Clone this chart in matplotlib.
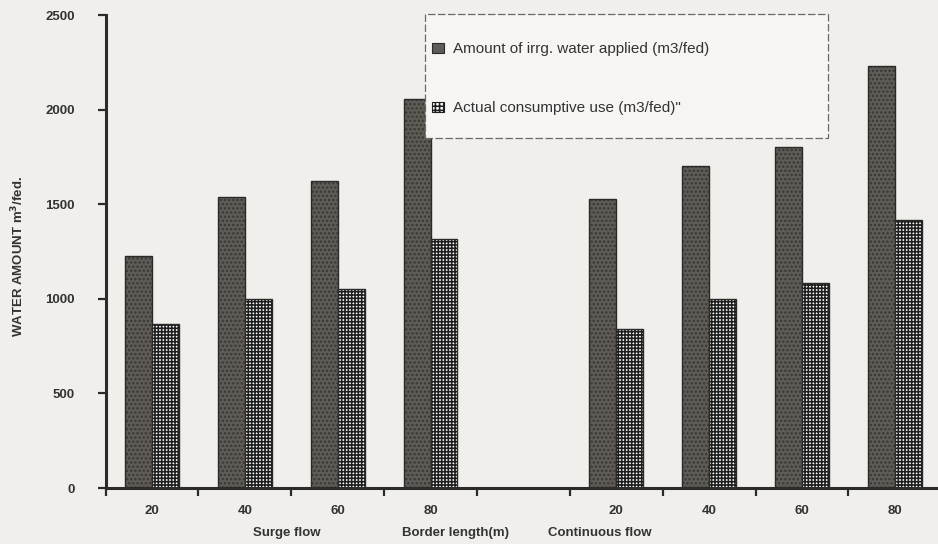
import numpy as np
import matplotlib.pyplot as plt
from matplotlib.patches import Patch, Rectangle

plt.rcParams['font.family'] = ['Liberation Sans', 'DejaVu Sans']
plt.rcParams['hatch.linewidth'] = 1.15

# Data
lengthLabels = ["20", "40", "60", "80", "", "20", "40", "60", "80"]
applied = [1225, 1540, 1625, 2055, np.nan, 1530, 1700, 1800, 2230]
consumptive = [865, 1000, 1050, 1315, np.nan, 840, 1000, 1085, 1415]
groupLabels = ["Surge flow", "Border length(m)", "Continuous flow"]
groupPos = [1.95, 3.77, 5.32]
legendLabels = ["Amount of irrg. water applied (m3/fed)", "Actual consumptive use (m3/fed)\""]
yTicks = [0, 500, 1000, 1500, 2000, 2500]

bgColor = "#f0efec"
darkFace = "#5f5b56"
darkDots = "#3a3734"
gridInk = "#1e1e1e"
outline = "#2a2a2a"
textInk = "#333333"
barW = 0.29

fig = plt.figure(figsize=(9.38, 5.44), dpi=100, facecolor=bgColor)
ax = fig.add_axes([0.1125, 0.1029, 0.891, 0.8695])
ax.set_facecolor(bgColor)

x = np.arange(len(lengthLabels)) + 0.5
xDark = x - barW / 2
xLight = x + barW / 2

# dark bars: face, texture, outline
ax.bar(xDark, applied, width=barW, color=darkFace, linewidth=0, zorder=2)
ax.bar(xDark, applied, width=barW, facecolor="none", edgecolor=darkDots, hatch="....", linewidth=0, zorder=2)
ax.bar(xDark, applied, width=barW, facecolor="none", edgecolor=outline, linewidth=1.0, zorder=2)

# light bars: white with dense grid
ax.bar(xLight, consumptive, width=barW, color="white", linewidth=0, zorder=2)
ax.bar(xLight, consumptive, width=barW, facecolor="none", edgecolor=gridInk, hatch="+++++", linewidth=0, zorder=2)
ax.bar(xLight, consumptive, width=barW, facecolor="none", edgecolor=outline, linewidth=1.0, zorder=2)

ax.set_xlim(0, len(lengthLabels))
ax.set_ylim(0, 2500)

for s in ["top", "right"]:
    ax.spines[s].set_visible(False)
for s in ["left", "bottom"]:
    ax.spines[s].set_linewidth(2.2)
    ax.spines[s].set_color("#2b2b2b")

ax.set_yticks(yTicks)
ax.set_yticklabels([str(v) for v in yTicks], fontsize=9.5, fontweight="bold", color=textInk)
ax.tick_params(axis="y", direction="out", length=6, width=1.6, pad=16, color="#2b2b2b")

ax.set_xticks(np.arange(len(lengthLabels) + 1))
ax.set_xticklabels([])
ax.set_xticks(x, minor=True)
ax.set_xticklabels(lengthLabels, minor=True, fontsize=9.5, fontweight="bold", color=textInk)
ax.tick_params(axis="x", which="major", direction="out", length=6, width=1.6, color="#2b2b2b")
ax.tick_params(axis="x", which="minor", length=0, pad=12)

trans = ax.get_xaxis_transform()
for lbl, p in zip(groupLabels, groupPos):
    ax.text(p, -0.095, lbl, transform=trans, ha="center", va="center",
            fontsize=9.5, fontweight="bold", color=textInk)

ax.set_ylabel("WATER AMOUNT m$^\\mathbf{3}$/fed.", fontsize=9.5, fontweight="bold", color=textInk)
ax.yaxis.set_label_coords(-0.095, 0.49)

# legend box
frame = Rectangle((0.382, 0.740), 0.482, 0.262, transform=ax.transAxes, facecolor="#f6f5f3",
                  edgecolor="#6a6a6a", linewidth=0.9, linestyle=(0, (6, 2)), zorder=4, clip_on=False)
ax.add_patch(frame)

handles = [
    Patch(facecolor=darkFace, edgecolor=outline, linewidth=0.8),
    Patch(facecolor="white", edgecolor=gridInk, hatch="++++", linewidth=0.8),
]
leg = ax.legend(handles, legendLabels, loc="upper left", bbox_to_anchor=(0.391, 0.943),
                frameon=False, fontsize=11, borderpad=0, borderaxespad=0,
                handlelength=0.75, handleheight=0.65, handletextpad=0.6, labelspacing=2.95)
leg.set_zorder(5)
for t in leg.get_texts():
    t.set_color(textInk)

fig.savefig("out.png", dpi=100, facecolor=bgColor)
